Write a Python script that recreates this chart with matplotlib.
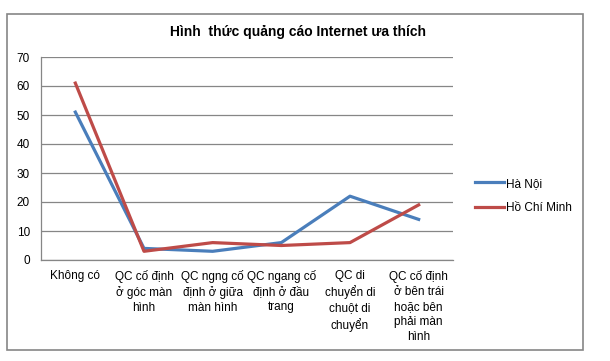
import numpy as np
import matplotlib
matplotlib.use("Agg")
from matplotlib import pyplot as plt
from matplotlib.patches import Rectangle

plt.rcParams['font.family'] = ['Liberation Sans', 'DejaVu Sans']

categories = ["Không có",
              "QC cố định\nở góc màn\nhình",
              "QC ngng cố\nđịnh ở giữa\nmàn hình",
              "QC ngang cố\nđịnh ở đầu\ntrang",
              "QC di\nchuyển di\nchuột di\nchuyển",
              "QC cố định\nở bên trái\nhoặc bên\nphải màn\nhình"]
ha_noi = [51, 4, 3, 6, 22, 14]
hcm = [61, 3, 6, 5, 6, 19]
yticks = [0, 10, 20, 30, 40, 50, 60, 70]

fig = plt.figure(figsize=(6.10, 3.61), dpi=100)
ax = fig.add_axes([41/610, 1-260/361, 412/610, 203/361])

x = np.arange(len(categories))
ax.plot(x, ha_noi, color='#4a7ebb', lw=2.3, label='Hà Nội', solid_joinstyle='round')
ax.plot(x, hcm, color='#be4b48', lw=2.3, label='Hồ Chí Minh', solid_joinstyle='round')

ax.set_xlim(-0.5, len(categories)-0.5)
ax.set_ylim(0, 70)
ax.set_yticks(yticks)
ax.set_xticks(x)
ax.set_xticklabels(categories, fontsize=8.5, linespacing=1.33)
ax.tick_params(axis='both', length=0, labelsize=8.5, colors='black')
ax.tick_params(axis='y', pad=8)
ax.tick_params(axis='x', pad=7)
ax.grid(axis='y', color='#868686', lw=0.9)
ax.set_axisbelow(True)
for s in ['top', 'right']:
    ax.spines[s].set_visible(False)
for s in ['left', 'bottom']:
    ax.spines[s].set_color('#868686')
    ax.spines[s].set_linewidth(0.9)

fig.text(298/610, 1-32/361, "Hình  thức quảng cáo Internet ưa thích",
         ha='center', va='center', fontsize=10, fontweight='bold')

leg = fig.legend(loc='upper left', bbox_to_anchor=(464/610, 1-167/361), frameon=False,
                 fontsize=8.5, handlelength=2.5, handletextpad=0.15, labelspacing=1.05)

fig.patches.append(Rectangle((7/610, 1-350/361), 576/610, 336/361, transform=fig.transFigure,
                             fill=False, edgecolor='#868686', lw=1.2))

fig.savefig('out.png', dpi=100)
